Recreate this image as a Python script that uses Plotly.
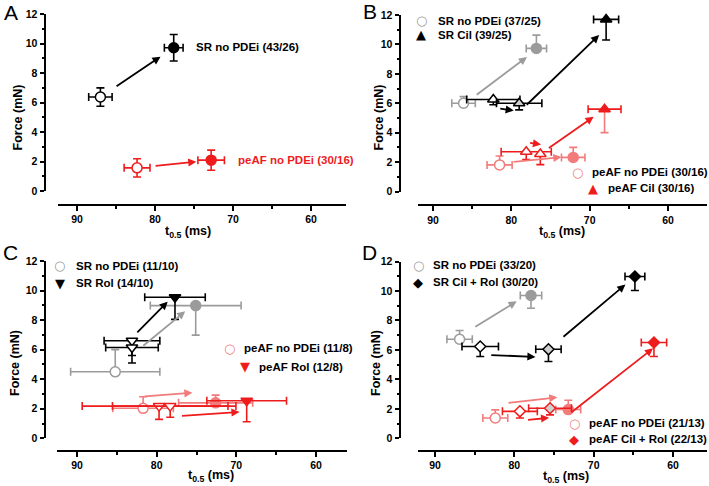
import plotly.graph_objects as go

W, H = 709, 486
FONT = "Liberation Sans, Arial, Helvetica, sans-serif"
SYM_FONT = "DejaVu Sans"

BLACK = "#000000"
GREY = "#9b9b9b"
LGREY = "#cfcfcf"
RED = "#ee1c1c"
LRED = "#f27b7b"
WHITE = "#ffffff"

# ---------------- data (t0.5 in ms, force in mN, SEM) ----------------
x_ticks = [90, 80, 70, 60]
x_minor = [85, 75, 65]
y_ticks = [0, 2, 4, 6, 8, 10, 12]
y_minor = [1, 3, 5, 7, 9, 11]

# Panel A
A_sr_t = [87.0, 77.6]; A_sr_f = [6.37, 9.71]
A_sr_terr = [1.5, 1.2]; A_sr_fup = [0.62, 0.9]; A_sr_fdn = [0.62, 0.9]
A_af_t = [82.3, 72.8]; A_af_f = [1.57, 2.09]
A_af_terr = [1.66, 1.7]; A_af_fup = [0.62, 0.68]; A_af_fdn = [0.62, 0.68]

# Panel B
B_sr_t = [86.1, 76.8]; B_sr_f = [6.0, 9.73]
B_sr_terr = [1.5, 1.3]; B_sr_fup = [0.45, 0.9]; B_sr_fdn = [0.0, 0.0]
B_cil_t = [82.3, 79.0, 67.9]; B_cil_f = [6.25, 6.0, 11.7]
B_cil_terr = [3.4, 2.9, 1.6]; B_cil_fup = [0.0, 0.0, 0.0]; B_cil_fdn = [0.35, 0.45, 1.4]
B_af_t = [81.5, 72.1]; B_af_f = [1.81, 2.32]
B_af_terr = [1.6, 1.5]; B_af_fup = [0.6, 0.68]; B_af_fdn = [0.0, 0.0]
B_afcil_t = [78.1, 76.3, 68.1]; B_afcil_f = [2.7, 2.55, 5.6]
B_afcil_terr = [3.2, 0.0, 2.1]; B_afcil_fup = [0.0, 0.0, 0.0]; B_afcil_fdn = [0.52, 0.72, 1.6]

# Panel C
C_sr_t = [85.2, 75.1]; C_sr_f = [4.5, 8.98]
C_sr_terr = [5.6, 5.7]; C_sr_fup = [1.5, 0.0]; C_sr_fdn = [0.0, 2.0]
C_rol_t = [83.1, 83.1, 77.7]; C_rol_f = [6.6, 6.15, 9.55]
C_rol_terr = [3.5, 3.3, 3.8]; C_rol_fup = [0.0, 0.0, 0.0]; C_rol_fdn = [1.0, 1.05, 1.5]
C_af_t = [81.7, 72.6]; C_af_f = [2.03, 2.4]
C_af_terr = [3.8, 4.65]; C_af_fup = [0.78, 0.52]; C_af_fdn = [0.0, 0.0]
C_afrol_t = [79.7, 78.3, 68.7]; C_afrol_f = [2.18, 2.18, 2.54]
C_afrol_terr = [9.65, 7.25, 5.0]; C_afrol_fup = [0.0, 0.0, 0.0]; C_afrol_fdn = [0.9, 0.76, 1.42]

# Panel D
D_sr_t = [86.9, 77.9]; D_sr_f = [6.72, 9.69]
D_sr_terr = [1.6, 1.35]; D_sr_fup = [0.6, 0.0]; D_sr_fdn = [0.0, 0.86]
D_cr_t = [84.3, 75.7, 64.8]; D_cr_f = [6.23, 6.04, 10.98]
D_cr_terr = [2.3, 1.6, 1.25]; D_cr_fup = [0.0, 0.0, 0.0]; D_cr_fdn = [0.68, 0.83, 0.95]
D_af_t = [82.4, 73.2]; D_af_f = [1.38, 1.95]
D_af_terr = [1.57, 1.57]; D_af_fup = [0.55, 0.63]; D_af_fdn = [0.0, 0.0]
D_afcr_t = [79.3, 75.5, 62.4]; D_afcr_f = [1.83, 2.04, 6.5]
D_afcr_terr = [2.2, 2.7, 1.6]; D_afcr_fup = [0.0, 0.0, 0.0]; D_afcr_fdn = [0.45, 0.45, 0.95]

# ---------------- panel geometry (pixels) ----------------
panels = {
    "A": dict(yx=45, y0=191, y12=14, xly=204.5, xl0=58, xl1=346, p90=77, p60=311),
    "B": dict(yx=400, y0=191.5, y12=15, xly=205, xl0=418, xl1=707, p90=433, p60=668),
    "C": dict(yx=45, y0=438.3, y12=261, xly=450.7, xl0=57, xl1=347, p90=77, p60=316),
    "D": dict(yx=400, y0=438.3, y12=261.5, xly=450.7, xl0=418, xl1=707, p90=435, p60=673),
}

fig = go.Figure()
layout = {}
refs = {}
for k, (name, g) in enumerate(panels.items(), start=1):
    s = (g["p60"] - g["p90"]) / 30.0
    xr0 = 90 - (g["xl0"] - g["p90"]) / s
    xr1 = 90 - (g["xl1"] - g["p90"]) / s
    sx = "" if k == 1 else str(k)
    refs[name] = ("x" + sx, "y" + sx)
    tickfont = dict(family=FONT, size=10.5, color=BLACK, weight="bold")
    layout["xaxis" + sx] = dict(
        domain=[g["xl0"] / W, g["xl1"] / W], range=[xr0, xr1], anchor="free",
        position=1 - g["xly"] / H, showline=True, linewidth=2, linecolor=BLACK,
        ticks="outside", ticklen=5, tickwidth=2, tickcolor=BLACK, tickvals=x_ticks,
        minor=dict(tickvals=x_minor, ticks="outside", ticklen=3, tickwidth=2, tickcolor=BLACK),
        tickfont=tickfont, showgrid=False, zeroline=False, automargin=False, fixedrange=True)
    layout["yaxis" + sx] = dict(
        domain=[1 - g["y0"] / H, 1 - g["y12"] / H], range=[0, 12], anchor="free",
        position=g["yx"] / W, showline=True, linewidth=2, linecolor=BLACK,
        ticks="outside", ticklen=4.5, tickwidth=2, tickcolor=BLACK, tickvals=y_ticks,
        minor=dict(tickvals=y_minor, ticks="outside", ticklen=2.5, tickwidth=2, tickcolor=BLACK),
        tickfont=tickfont, showgrid=False, zeroline=False, automargin=False, fixedrange=True)

SIZES = {"circle": 10, "triangle-up": 10, "triangle-down": 10, "diamond": 8.5}


def add_series(panel, t, f, terr, fup, fdn, styles):
    xr, yr = refs[panel]
    for i in range(len(t)):
        sym, fill, line, ex, ey = styles[i]
        fig.add_trace(go.Scatter(
            x=[t[i]], y=[f[i]], mode="markers", xaxis=xr, yaxis=yr,
            marker=dict(symbol=sym, size=SIZES[sym], color=fill, line=dict(color=line, width=1.5)),
            error_x=dict(type="data", array=[terr[i]], color=ex, thickness=1.6, width=4),
            error_y=dict(type="data", symmetric=False, array=[fup[i]], arrayminus=[fdn[i]],
                         color=ey, thickness=1.6, width=4),
            showlegend=False, cliponaxis=False, hoverinfo="skip"))


def arrow(panel, p0, p1, t0, t1, dy, color):
    xr, yr = refs[panel]
    x0 = p0[0] + t0 * (p1[0] - p0[0]); y0 = p0[1] + t0 * (p1[1] - p0[1]) + dy
    x1 = p0[0] + t1 * (p1[0] - p0[0]); y1 = p0[1] + t1 * (p1[1] - p0[1]) + dy
    fig.add_annotation(x=x1, y=y1, ax=x0, ay=y0, xref=xr, yref=yr, axref=xr, ayref=yr,
                       text="", showarrow=True, arrowhead=2, arrowsize=0.9, arrowwidth=1.8,
                       arrowcolor=color, standoff=0, startstandoff=0)


def pt(t, f, i):
    return (t[i], f[i])


# ---- Panel A ----
add_series("A", A_sr_t, A_sr_f, A_sr_terr, A_sr_fup, A_sr_fdn,
           [("circle", WHITE, BLACK, BLACK, BLACK), ("circle", BLACK, BLACK, BLACK, BLACK)])
add_series("A", A_af_t, A_af_f, A_af_terr, A_af_fup, A_af_fdn,
           [("circle", WHITE, RED, RED, RED), ("circle", RED, RED, RED, RED)])
arrow("A", pt(A_sr_t, A_sr_f, 0), pt(A_sr_t, A_sr_f, 1), 0.2, 0.82, 0.0, BLACK)
arrow("A", pt(A_af_t, A_af_f, 0), pt(A_af_t, A_af_f, 1), 0.23, 0.8, 0.0, RED)

# ---- Panel B ----
add_series("B", B_sr_t, B_sr_f, B_sr_terr, B_sr_fup, B_sr_fdn,
           [("circle", WHITE, GREY, GREY, GREY), ("circle", GREY, GREY, GREY, GREY)])
add_series("B", B_cil_t, B_cil_f, B_cil_terr, B_cil_fup, B_cil_fdn,
           [("triangle-up", WHITE, BLACK, BLACK, BLACK), ("triangle-up", LGREY, BLACK, BLACK, BLACK),
            ("triangle-up", BLACK, BLACK, BLACK, BLACK)])
add_series("B", B_af_t, B_af_f, B_af_terr, B_af_fup, B_af_fdn,
           [("circle", WHITE, LRED, LRED, LRED), ("circle", LRED, LRED, LRED, LRED)])
add_series("B", B_afcil_t, B_afcil_f, B_afcil_terr, B_afcil_fup, B_afcil_fdn,
           [("triangle-up", WHITE, RED, RED, RED), ("triangle-up", WHITE, RED, RED, RED),
            ("triangle-up", RED, RED, RED, LRED)])
arrow("B", pt(B_sr_t, B_sr_f, 0), pt(B_sr_t, B_sr_f, 1), 0.16, 0.87, -0.1, GREY)
arrow("B", pt(B_cil_t, B_cil_f, 0), pt(B_cil_t, B_cil_f, 1), 0.21, 0.79, -0.55, BLACK)
arrow("B", pt(B_cil_t, B_cil_f, 1), pt(B_cil_t, B_cil_f, 2), 0.07, 0.92, -0.6, BLACK)
arrow("B", pt(B_af_t, B_af_f, 0), pt(B_af_t, B_af_f, 1), 0.17, 0.84, 0.1, LRED)
arrow("B", pt(B_afcil_t, B_afcil_f, 0), pt(B_afcil_t, B_afcil_f, 1), 0.17, 1.05, 0.65, RED)
arrow("B", pt(B_afcil_t, B_afcil_f, 1), pt(B_afcil_t, B_afcil_f, 2), 0.11, 0.83, 0.0, RED)

# ---- Panel C ----
add_series("C", C_sr_t, C_sr_f, C_sr_terr, C_sr_fup, C_sr_fdn,
           [("circle", WHITE, GREY, GREY, GREY), ("circle", GREY, GREY, GREY, GREY)])
add_series("C", C_rol_t, C_rol_f, C_rol_terr, C_rol_fup, C_rol_fdn,
           [("triangle-down", WHITE, BLACK, BLACK, BLACK), ("triangle-down", WHITE, BLACK, BLACK, BLACK),
            ("triangle-down", BLACK, BLACK, BLACK, BLACK)])
add_series("C", C_af_t, C_af_f, C_af_terr, C_af_fup, C_af_fdn,
           [("circle", WHITE, LRED, LRED, LRED), ("circle", LRED, LRED, LRED, LRED)])
add_series("C", C_afrol_t, C_afrol_f, C_afrol_terr, C_afrol_fup, C_afrol_fdn,
           [("triangle-down", WHITE, RED, RED, RED), ("triangle-down", WHITE, RED, RED, RED),
            ("triangle-down", RED, RED, RED, RED)])
arrow("C", pt(C_rol_t, C_rol_f, 0), pt(C_rol_t, C_rol_f, 2), 0.09, 0.83, 0.2, BLACK)
arrow("C", pt(C_sr_t, C_sr_f, 0), pt(C_sr_t, C_sr_f, 1), 0.33, 0.87, 0.2, GREY)
arrow("C", pt(C_af_t, C_af_f, 0), pt(C_af_t, C_af_f, 1), 0.0, 0.68, 0.8, LRED)
arrow("C", pt(C_afrol_t, C_afrol_f, 1), pt(C_afrol_t, C_afrol_f, 2), 0.135, 0.906, -0.72, RED)

# ---- Panel D ----
add_series("D", D_sr_t, D_sr_f, D_sr_terr, D_sr_fup, D_sr_fdn,
           [("circle", WHITE, GREY, GREY, GREY), ("circle", GREY, GREY, GREY, GREY)])
add_series("D", D_cr_t, D_cr_f, D_cr_terr, D_cr_fup, D_cr_fdn,
           [("diamond", WHITE, BLACK, BLACK, BLACK), ("diamond", LGREY, BLACK, BLACK, BLACK),
            ("diamond", BLACK, BLACK, BLACK, BLACK)])
add_series("D", D_af_t, D_af_f, D_af_terr, D_af_fup, D_af_fdn,
           [("circle", WHITE, LRED, LRED, LRED), ("circle", LRED, LRED, LRED, LRED)])
add_series("D", D_afcr_t, D_afcr_f, D_afcr_terr, D_afcr_fup, D_afcr_fdn,
           [("diamond", WHITE, RED, RED, RED), ("diamond", LGREY, RED, RED, RED),
            ("diamond", RED, RED, RED, RED)])
arrow("D", pt(D_sr_t, D_sr_f, 0), pt(D_sr_t, D_sr_f, 1), 0.2, 0.8, 0.2, GREY)
arrow("D", pt(D_cr_t, D_cr_f, 0), pt(D_cr_t, D_cr_f, 1), 0.14, 0.81, -0.55, BLACK)
arrow("D", pt(D_cr_t, D_cr_f, 1), pt(D_cr_t, D_cr_f, 2), 0.156, 0.89, 0.0, BLACK)
arrow("D", pt(D_af_t, D_af_f, 0), pt(D_af_t, D_af_f, 1), 0.16, 0.85, 0.92, LRED)
arrow("D", pt(D_afcr_t, D_afcr_f, 0), pt(D_afcr_t, D_afcr_f, 1), 0.22, 0.97, -0.64, RED)
arrow("D", pt(D_af_t, D_af_f, 1), pt(D_afcr_t, D_afcr_f, 2), 0.02, 0.99, -0.35, RED)


# ---------------- text ----------------
def P(px, py):
    return px / W, 1 - py / H


def text(px, py, s, size=11.5, color=BLACK, bold=True, xanchor="left", angle=0, family=FONT):
    x, y = P(px, py)
    fig.add_annotation(x=x, y=y, xref="paper", yref="paper", text=s, showarrow=False,
                       xanchor=xanchor, yanchor="middle", textangle=angle, borderpad=0,
                       font=dict(family=family, size=size, color=color,
                                 weight="bold" if bold else "normal"))


# panel letters
text(10.5, 12.5, "A", size=21, bold=False, xanchor="center")
text(370, 11.5, "B", size=21, bold=False, xanchor="center")
text(10, 252, "C", size=21, bold=False, xanchor="center")
text(369, 252, "D", size=21, bold=False, xanchor="center")

# axis titles
for (fx, fy, tx, ty) in [(17, 117.5, 188, 232), (378.5, 117, 561.7, 232),
                         (15, 363, 211, 476), (376, 363, 566, 477)]:
    text(fx, fy, "Force (mN)", size=12.5, xanchor="center", angle=-90)
    text(tx, ty, "t<sub>0.5</sub> (ms)", size=12.5, xanchor="center")

# legends
text(195, 47.3, "SR no PDEi (43/26)")
text(236.7, 160, "peAF no PDEi (30/16)", color=RED)

legend_items = [
    (421, 20.5, "○", GREY, 437, "SR no PDEi (37/25)"),
    (421, 34.8, "▲", BLACK, 437, "SR Cil (39/25)"),
    (577.7, 172.3, "○", LRED, 591, "peAF no PDEi (30/16)"),
    (593.3, 188.3, "▲", RED, 606.7, "peAF Cil (30/16)"),
    (60, 265.7, "○", GREY, 75, "SR no PDEi (11/10)"),
    (60, 283.3, "▼", BLACK, 75, "SR Rol (14/10)"),
    (229.3, 348.3, "○", LRED, 243.3, "peAF no PDEi (11/8)"),
    (245, 366.7, "▼", RED, 258.3, "peAF Rol (12/8)"),
    (418.3, 265, "○", GREY, 431.7, "SR no PDEi (33/20)"),
    (418.3, 282.3, "◆", BLACK, 431.7, "SR Cil + Rol (30/20)"),
    (574.3, 423.3, "○", LRED, 588.3, "peAF no PDEi (21/13)"),
    (574.3, 439, "◆", RED, 588.3, "peAF Cil + Rol (22/13)"),
]
for mx, my, glyph, col, tx, label in legend_items:
    text(mx, my, glyph, size=13, color=col, bold=False, xanchor="center", family=SYM_FONT)
    text(tx, my, label)

fig.update_layout(
    width=W, height=H, margin=dict(l=0, r=0, t=0, b=0),
    paper_bgcolor=WHITE, plot_bgcolor="rgba(0,0,0,0)", template="none",
    showlegend=False, font=dict(family=FONT, color=BLACK), **layout)

fig.write_html("out.html", config={"displayModeBar": False},
               post_script="document.body.style.margin='0px';document.body.style.overflow='hidden';")
